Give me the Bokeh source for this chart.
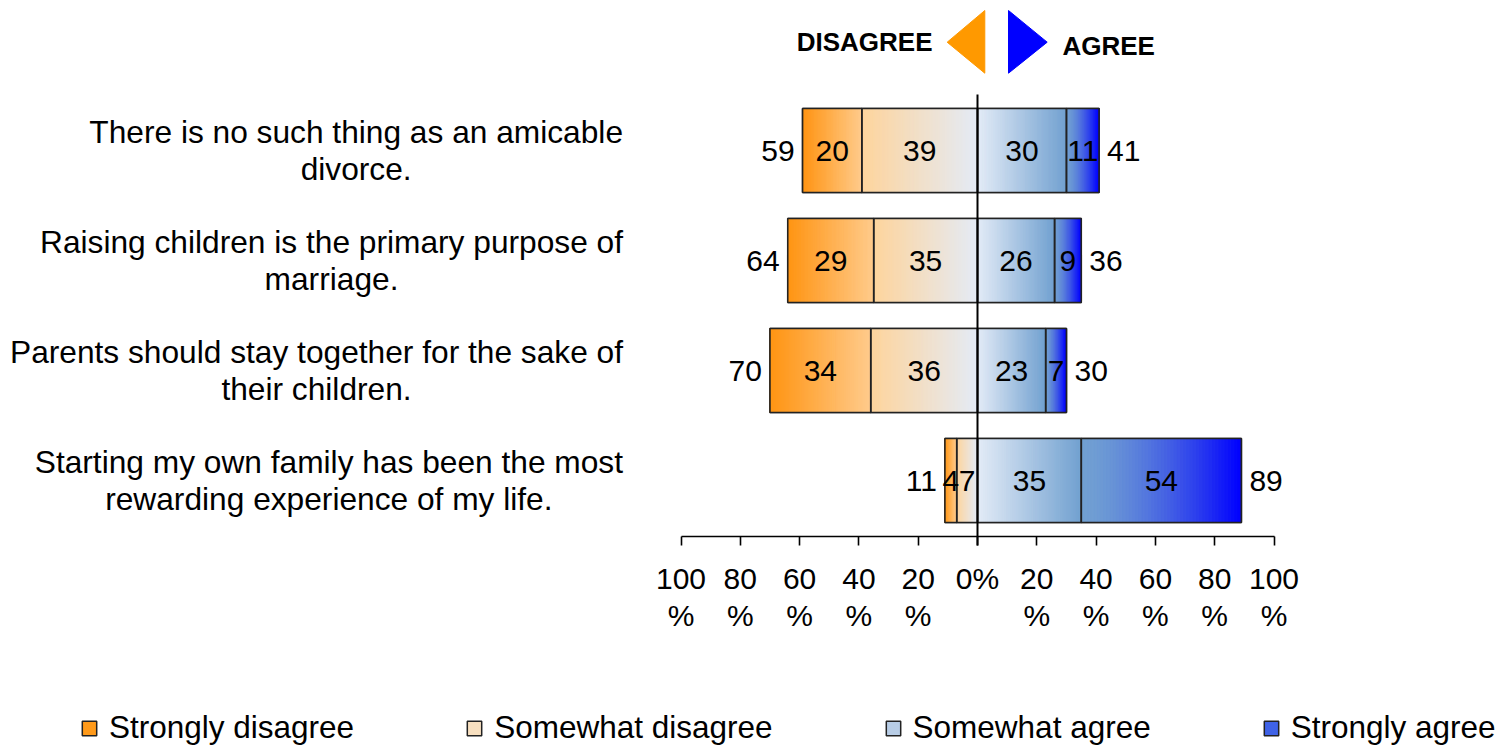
from bokeh.plotting import figure
from bokeh.models import Range1d, LinearAxis, FixedTicker, Legend, LegendItem, ColumnDataSource
from bokeh.core.properties import value
from bokeh.embed import file_html
from bokeh.resources import INLINE

# ---------------- data ----------------
statements = [
    "There is no such thing as an amicable\ndivorce.",
    "Raising children is the primary purpose of\nmarriage.",
    "Parents should stay together for the sake of\ntheir children.",
    "Starting my own family has been the most\nrewarding experience of my life.",
]
strongly_disagree = [20, 29, 34, 4]
somewhat_disagree = [39, 35, 36, 7]
somewhat_agree = [30, 26, 23, 35]
strongly_agree = [11, 9, 7, 54]
disagree_totals = [59, 64, 70, 11]
agree_totals = [41, 36, 30, 89]
series_names = ["Strongly disagree", "Somewhat disagree", "Somewhat agree", "Strongly agree"]
tick_values = [-100, -80, -60, -40, -20, 0, 20, 40, 60, 80, 100]
tick_labels = ["100\n%", "80\n%", "60\n%", "40\n%", "20\n%", "0%",
               "20\n%", "40\n%", "60\n%", "80\n%", "100\n%"]

# ---------------- style ----------------
FONT = "Liberation Sans"
W, H = 1507, 746
PX_X = 2.965      # pixels per percentage point
PX_Y = 110.0      # pixels per row
X0_PX = 977.0     # zero line position in figure px
ROW0_PX = 150.0   # first row centre in figure px
BAR_H = 84 / PX_Y

grad = [("#FF9412", "#FFCB8C", 1.0),
        ("#FED49C", "#E4EBF6", 1.0),
        ("#E4ECF7", "#72A1D0", 1.0),
        ("#72A1D2", "#0000FF", 1.5)]
legend_colors = ["#FF9A1A", "#F8E0C0", "#B8CDE6", "#3F62E6"]


def hex2rgb(h):
    h = h.lstrip("#")
    return [int(h[i:i + 2], 16) for i in (0, 2, 4)]


def mix(c1, c2, t):
    a, b = hex2rgb(c1), hex2rgb(c2)
    return "#%02x%02x%02x" % tuple(int(round(a[i] + (b[i] - a[i]) * t)) for i in range(3))


x_start = -X0_PX / PX_X
x_end = (W - X0_PX) / PX_X
y_top = -ROW0_PX / PX_Y
y_bottom = y_top + H / PX_Y

p = figure(width=W, height=H, title=None,
           x_range=Range1d(x_start, x_end), y_range=Range1d(y_bottom, y_top),
           output_backend="svg", toolbar_location=None,
           x_axis_type=None, y_axis_type=None, min_border=0,
           min_border_left=0, min_border_right=0, min_border_top=0, min_border_bottom=0)
p.outline_line_color = None
p.xgrid.visible = False
p.ygrid.visible = False
p.background_fill_color = "white"
p.border_fill_color = "white"

n = len(statements)
rows = list(range(n))

# segment extents
segs = []  # (series index, row, left, right, value)
for i in rows:
    sd, swd, swa, sa = strongly_disagree[i], somewhat_disagree[i], somewhat_agree[i], strongly_agree[i]
    segs.append((0, i, -(sd + swd), -swd, sd))
    segs.append((1, i, -swd, 0, swd))
    segs.append((2, i, 0, swa, swa))
    segs.append((3, i, swa, swa + sa, sa))

# base renderers (used for legend), hidden beneath gradient
legend_items = []
for k, name in enumerate(series_names):
    ss = [s for s in segs if s[0] == k]
    src = ColumnDataSource(dict(
        left=[s[2] for s in ss], right=[s[3] for s in ss],
        top=[s[1] - BAR_H / 2 for s in ss], bottom=[s[1] + BAR_H / 2 for s in ss]))
    r = p.quad(left="left", right="right", top="top", bottom="bottom", source=src,
               fill_color=legend_colors[k], line_color="#222222", line_width=1.5)
    legend_items.append(LegendItem(label=name, renderers=[r]))

# gradient slices
N = 50
sl = dict(left=[], right=[], top=[], bottom=[], color=[])
for k, i, l, r_, v in segs:
    c1, c2, g = grad[k]
    for j in range(N):
        a = l + (r_ - l) * j / N
        b = l + (r_ - l) * (j + 1) / N
        t = ((j + 0.5) / N) ** g
        sl["left"].append(a)
        sl["right"].append(b)
        sl["top"].append(i - BAR_H / 2)
        sl["bottom"].append(i + BAR_H / 2)
        sl["color"].append(mix(c1, c2, t))
p.quad(left="left", right="right", top="top", bottom="bottom", source=ColumnDataSource(sl),
       fill_color="color", line_color="color", line_width=1)

# outlines
p.quad(left=[s[2] for s in segs], right=[s[3] for s in segs],
       top=[s[1] - BAR_H / 2 for s in segs], bottom=[s[1] + BAR_H / 2 for s in segs],
       fill_alpha=0, line_color="#222222", line_width=1.6)

# segment value labels
p.text(x=[(s[2] + s[3]) / 2 for s in segs], y=[s[1] for s in segs],
       text=[str(s[4]) for s in segs], text_align="center", text_baseline="middle",
       text_font=value(FONT), text_font_size="30px", text_color="black")

# totals
p.text(x=[-(strongly_disagree[i] + somewhat_disagree[i]) for i in rows], y=rows,
       text=[str(v) for v in disagree_totals], x_offset=-8,
       text_align="right", text_baseline="middle",
       text_font=value(FONT), text_font_size="30px", text_color="black")
p.text(x=[somewhat_agree[i] + strongly_agree[i] for i in rows], y=rows,
       text=[str(v) for v in agree_totals], x_offset=8,
       text_align="left", text_baseline="middle",
       text_font=value(FONT), text_font_size="30px", text_color="black")

# statement labels
p.text(x=[-100] * n, y=rows, text=statements, x_offset=-58,
       anchor=value("center_right"), text_align="center", text_baseline="middle",
       text_font=value(FONT), text_font_size="31.7px", text_color="black",
       text_line_height=1.03)

# header arrows & words
def px2x(px):
    return (px - X0_PX) / PX_X


def px2y(py):
    return (py - ROW0_PX) / PX_Y


p.patch(x=[px2x(946.7), px2x(984.3), px2x(984.3)], y=[px2y(41.7), px2y(10), px2y(72.7)],
        fill_color="#FF9900", line_color="#FF9900", line_width=1)
p.patch(x=[px2x(1008), px2x(1008), px2x(1046.7)], y=[px2y(10), px2y(72.7), px2y(41.7)],
        fill_color="#0000FF", line_color="#0000FF", line_width=1)
p.text(x=[px2x(932)], y=[px2y(41)], text=["DISAGREE"], text_align="right", text_baseline="middle",
       text_font=value(FONT), text_font_style="bold", text_font_size="26px", text_color="black")
p.text(x=[px2x(1062)], y=[px2y(45.5)], text=["AGREE"], text_align="left", text_baseline="middle",
       text_font=value(FONT), text_font_style="bold", text_font_size="26px", text_color="black")

# x axis (percent scale)
xaxis = LinearAxis(fixed_location=n - 1 + 0.51, bounds=(-100, 100),
                   ticker=FixedTicker(ticks=tick_values, minor_ticks=[]))
xaxis.major_label_overrides = {v: lab for v, lab in zip(tick_values, tick_labels)}
xaxis.axis_line_color = "black"
xaxis.axis_line_width = 1.6
xaxis.major_tick_line_color = "black"
xaxis.major_tick_line_width = 1.6
xaxis.major_tick_in = 0
xaxis.major_tick_out = 9
xaxis.minor_tick_out = 0
xaxis.major_label_standoff = 16
xaxis.major_label_text_font = FONT
xaxis.major_label_text_font_size = "30px"
xaxis.major_label_text_color = "black"
xaxis.major_label_text_line_height = 1.14
p.add_layout(xaxis, "below")

# zero line (vertical axis)
yaxis = LinearAxis(fixed_location=0, bounds=(-0.51, n - 1 + 0.59),
                   ticker=FixedTicker(ticks=[], minor_ticks=[]))
yaxis.axis_line_color = "black"
yaxis.axis_line_width = 2
yaxis.major_tick_out = 0
yaxis.major_tick_in = 0
yaxis.major_label_text_alpha = 0
p.add_layout(yaxis, "left")

legend = Legend(items=legend_items, orientation="horizontal", location=(80, 0),
                padding=0, margin=0, spacing=111, glyph_width=18, glyph_height=18,
                label_standoff=11, label_text_font=FONT, label_text_font_size="31.5px",
                label_text_color="black", background_fill_alpha=0, border_line_color=None)
p.add_layout(legend, "center")

open("out.html", "w").write(file_html(p, INLINE))
